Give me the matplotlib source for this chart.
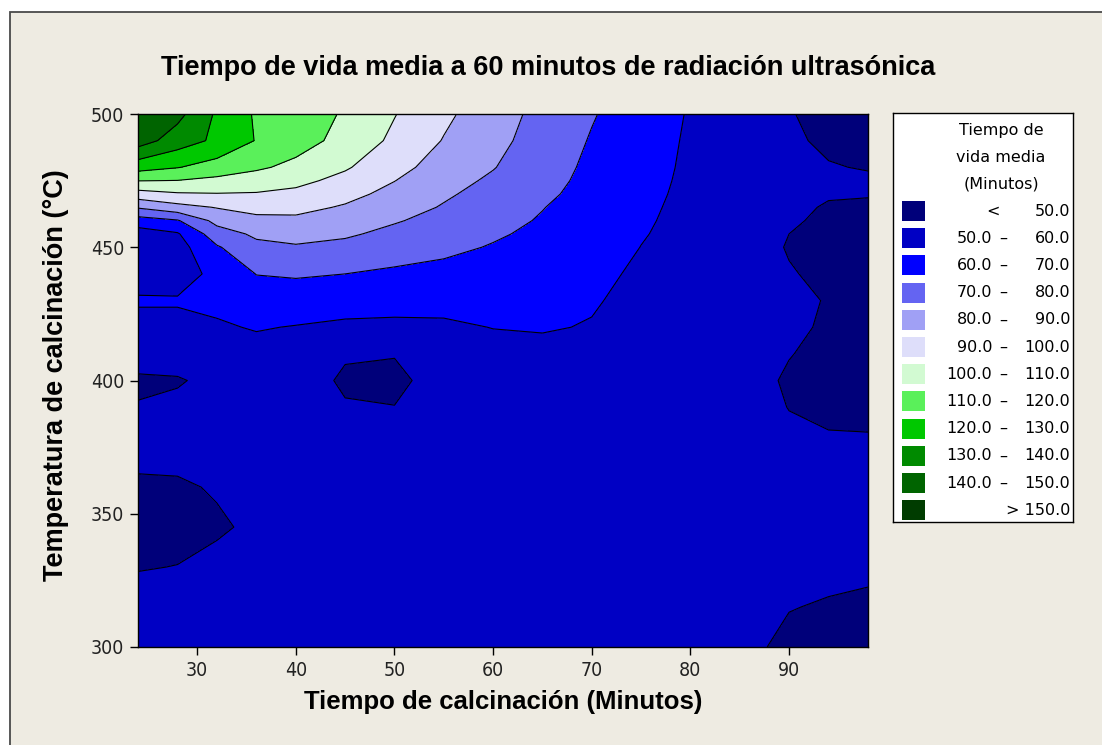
import numpy as np
import matplotlib
matplotlib.use('Agg')
import matplotlib.pyplot as plt
from matplotlib.patches import Rectangle

# grid: calcination time (min) x temperature (C)
tiempo = [24, 28, 32, 36, 40, 45, 50, 55, 60, 65, 70, 75, 80, 85, 90, 94, 98]
temperatura = [500, 490, 480, 475, 470, 465, 460, 455, 450, 440, 430,
               420, 410, 400, 390, 375, 360, 345, 330, 315, 300]

vida_media = [
    [147, 143, 128.5, 118.8, 114.6, 109.1, 100.4, 92, 84.3, 77.2, 70.7, 64.8, 59.3, 54.8, 50.4, 48, 47],
    [144.9, 135, 128, 119.5, 114.2, 106.8, 98, 89.5, 82.7, 76, 69.3, 63.9, 58.9, 55.1, 51.4, 48.5, 47.5],
    [124, 120.4, 116, 111.5, 107.5, 101.1, 93, 86, 80.4, 74.4, 68, 62.9, 58.7, 55.5, 52.9, 50.5, 49.5],
    [110.3, 109.8, 107.5, 105.4, 102.6, 97.1, 90.2, 83.2, 78.6, 73.5, 67.2, 62.5, 58.5, 55.7, 53, 51.5, 51.3],
    [96, 99, 99.6, 99.3, 97.7, 93, 87.1, 81.3, 76.7, 72, 66.5, 62, 58.3, 55.7, 52.5, 50.6, 50.2],
    [81, 86.7, 90.5, 93.2, 92.8, 89, 83.9, 79.3, 74.9, 70.3, 65.8, 61.5, 58, 55.5, 51.5, 49.4, 49.5],
    [65.5, 69.2, 83, 87.4, 88, 85.2, 80.8, 76.9, 73, 69.2, 65.1, 61, 57.8, 55, 51, 48.5, 48],
    [55, 59, 75.5, 81.7, 83.5, 81.3, 77.6, 74.4, 71.1, 68.1, 64.4, 60.5, 57.5, 54.5, 50, 48, 47.5],
    [55, 56, 69, 77.5, 79, 77.5, 74.5, 72, 69.4, 67, 63.7, 59.9, 57.3, 54, 49.5, 48, 47.5],
    [56, 55, 63, 70.2, 71, 70, 68.4, 67.4, 66.3, 64.9, 62.3, 58.5, 57, 54, 50.5, 48.5, 47.5],
    [61, 61, 62, 65.4, 65.1, 63.4, 62.5, 62.9, 63.3, 62.8, 60.8, 57.5, 56.5, 54.5, 52, 49.5, 48],
    [57, 57, 59, 60.6, 59.6, 58.5, 58.5, 58.5, 60.2, 60.7, 59.5, 56.5, 56, 54.5, 51.5, 49, 48],
    [56, 55.5, 56, 57, 56.5, 51, 50.5, 55.5, 57, 57.5, 56.5, 55.5, 55.5, 54, 50.3, 48, 47.5],
    [48, 49, 53, 54.5, 55, 48.5, 47.5, 54.5, 55, 55.5, 55.5, 55.5, 55.5, 53.5, 49, 47.5, 47],
    [50.7, 52.5, 54.5, 55, 55, 50.8, 50.2, 55, 55.5, 55.5, 55.5, 55.5, 55.5, 54, 49.8, 48, 47.5],
    [54, 54, 55, 55.5, 55.5, 55, 55, 55.5, 55.5, 55.5, 55.5, 55.5, 55.5, 55, 52, 51.5, 51.5],
    [48, 48.5, 51, 53, 55, 55.5, 55.5, 55.5, 55.5, 55.5, 55.5, 55.5, 55.5, 55.5, 53.5, 53.5, 53.5],
    [46, 47, 48.5, 52, 55, 55.5, 55.5, 55.5, 55.5, 55.5, 55.5, 55.5, 55.5, 55.5, 54, 54, 54],
    [49.5, 50.2, 53, 54, 55, 55.5, 55.5, 55.5, 55.5, 55.5, 55.5, 55.5, 55.5, 55, 52.5, 52, 51.5],
    [54, 54, 55, 55.5, 55.5, 55.5, 55.5, 55.5, 55.5, 55.5, 55.5, 55.5, 55.5, 54, 50.3, 49.3, 48.5],
    [55, 55, 55.5, 56, 56, 56, 56, 56, 56, 56, 56, 55.5, 55.5, 52.5, 48, 47, 47],
]

niveles = [50, 60, 70, 80, 90, 100, 110, 120, 130, 140, 150]
colores = ['#00007A', '#0000C4', '#0000FF', '#6464F2', '#A0A0F5', '#DEDEFA',
           '#D2FAD2', '#5AF05A', '#00C800', '#008A00', '#006400', '#003C00']

xticks = [30, 40, 50, 60, 70, 80, 90]
yticks = [300, 350, 400, 450, 500]

W, H = 1102, 745
fig = plt.figure(figsize=(W / 100, H / 100), dpi=100)
fig.patch.set_facecolor('white')
fig.add_artist(Rectangle((10 / W, -0.02), 1.05, (H - 12) / H + 0.02,
                         transform=fig.transFigure, facecolor='#EEEBE2',
                         edgecolor='#4a4a4a', linewidth=1.3, zorder=-10))

ax = fig.add_axes([138 / W, 1 - 647 / H, 730 / W, 533 / H])
X, Y = np.meshgrid(tiempo, temperatura)
Z = np.array(vida_media)
lv = [0] + niveles + [1000]
ax.contourf(X, Y, Z, levels=lv, colors=colores)
ax.contour(X, Y, Z, levels=niveles, colors='black', linewidths=0.8)
ax.set_xlim(24, 98)
ax.set_ylim(300, 500)
ax.set_xticks(xticks)
ax.set_yticks(yticks)
ax.tick_params(direction='out', length=6, width=1, colors='black', labelsize=14, pad=4)
for lab in ax.get_xticklabels() + ax.get_yticklabels():
    lab.set_family('DejaVu Sans')
    lab.set_stretch('condensed')
    lab.set_color('#222222')
for s in ax.spines.values():
    s.set_linewidth(1.0)

bold = dict(family=['Liberation Sans', 'DejaVu Sans'], weight='bold')
ax.set_xlabel('Tiempo de calcinación (Minutos)', fontsize=18.5, labelpad=7, **bold)
ax.set_ylabel('Temperatura de calcinación (°C)', fontsize=19.5, **bold)
ax.yaxis.set_label_coords(-0.094, 0.51)
fig.text(548 / W, 1 - 68 / H, 'Tiempo de vida media a 60 minutos de radiación ultrasónica',
         ha='center', va='center', fontsize=19.5, **bold)

# legend
lax = fig.add_axes([893 / W, 1 - 522 / H, 180 / W, 409 / H])
lax.set_xlim(0, 180)
lax.set_ylim(409, 0)
lax.set_xticks([])
lax.set_yticks([])
lax.set_facecolor('white')
for s in lax.spines.values():
    s.set_linewidth(1.0)
    s.set_color('black')
lf = dict(family='DejaVu Sans', fontsize=11.5, color='black')
for i, t in enumerate(['Tiempo de', 'vida media', '(Minutos)']):
    lax.text(108, 17 + i * 27, t, ha='center', va='center', **lf)
for i, c in enumerate(colores):
    yy = 98 + i * 27.2
    lax.add_patch(Rectangle((9, yy - 10), 23, 20, facecolor=c, edgecolor='none'))
    if i == 0:
        lax.text(100, yy, '<', ha='center', va='center', **lf)
        lax.text(177, yy, f'{niveles[0]:.1f}', ha='right', va='center', **lf)
    elif i == len(colores) - 1:
        lax.text(177, yy, f'> {niveles[-1]:.1f}', ha='right', va='center', **lf)
    else:
        lax.text(99, yy, f'{niveles[i - 1]:.1f}', ha='right', va='center', **lf)
        lax.text(110, yy, '–', ha='center', va='center', **lf)
        lax.text(177, yy, f'{niveles[i]:.1f}', ha='right', va='center', **lf)

fig.savefig('out.png', dpi=100)
